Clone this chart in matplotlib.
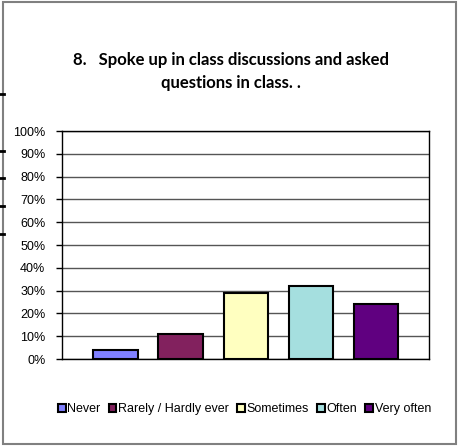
import numpy as np
import matplotlib.pyplot as plt
from matplotlib.lines import Line2D

categories = ['Never', 'Rarely / Hardly ever', 'Sometimes', 'Often', 'Very often']
values = [4, 11, 29, 32, 24]
colors = ['#8080FF', '#82215E', '#FFFFC0', '#A5DFDF', '#600080']
yticks = np.arange(0, 101, 10)
ytick_labels = [str(v) + '%' for v in yticks]

fig = plt.figure(figsize=(4.58, 4.46), dpi=100)
ax = fig.add_axes([0.1354, 0.195, 0.802, 0.5112])

x = np.arange(len(categories))
for i in range(len(categories)):
    ax.bar(x[i], values[i], width=0.68, color=colors[i], edgecolor='black',
           linewidth=1.5, label=categories[i], zorder=3)

ax.set_xlim(-0.82, 4.82)
ax.set_ylim(0, 100)
ax.set_yticks(yticks)
ax.set_yticklabels(ytick_labels, fontsize=9, family='Liberation Sans')
ax.set_xticks([])
ax.yaxis.grid(True, color='#555555', linewidth=1, zorder=0)
ax.tick_params(axis='y', length=4, width=1, pad=8)
for s in ax.spines.values():
    s.set_linewidth(1)
    s.set_color('black')

fig.text(0.505, 0.866, '8.   Spoke up in class discussions and asked',
         ha='center', va='center', fontsize=12, fontweight='bold', family='Lato')
fig.text(0.505, 0.814, 'questions in class. .',
         ha='center', va='center', fontsize=12, fontweight='bold', family='Lato')

leg = fig.legend(loc='center', bbox_to_anchor=(0.534, 0.083), ncol=5,
                 frameon=False, handlelength=0.6, handleheight=0.6,
                 handletextpad=0.15, columnspacing=0.65,
                 prop={'family': 'Liberation Sans', 'size': 9})

# outer chart border
fig.add_artist(plt.Rectangle((3 / 458, 2 / 446), 453 / 458, 442 / 446,
                             transform=fig.transFigure, fill=False,
                             edgecolor='#808080', linewidth=1.5))

# stray marks at the left edge
for yy in [94, 151, 178, 206, 234]:
    fig.add_artist(Line2D([0, 4 / 458], [1 - yy / 446, 1 - yy / 446],
                          transform=fig.transFigure, color='black', linewidth=2))

fig.savefig('out.png', dpi=100)
